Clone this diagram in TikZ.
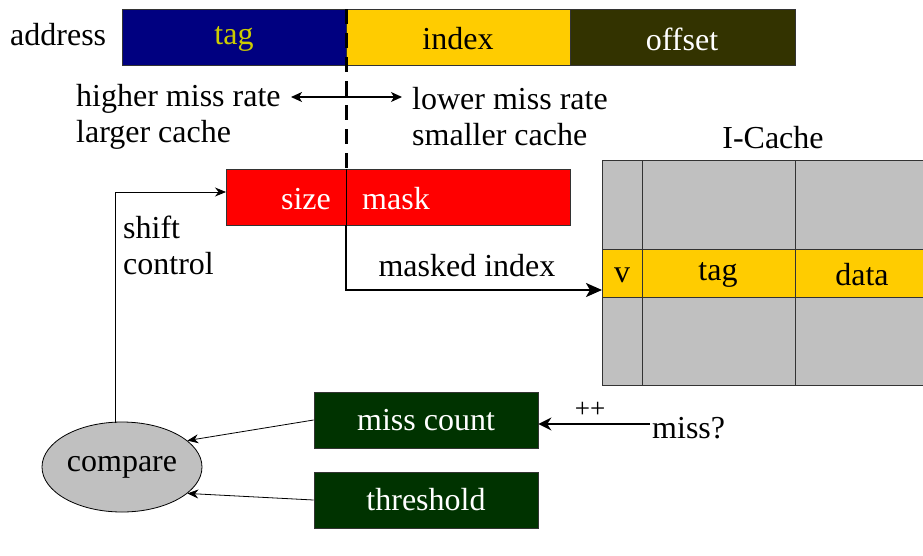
\documentclass[tikz,border=0pt]{standalone}
\usepackage{fontspec}
\setmainfont{Liberation Serif}
\usetikzlibrary{arrows.meta,shapes.geometric}
\definecolor{tagblue}{HTML}{000080}
\definecolor{tagtxt}{HTML}{CCCC00}
\definecolor{idxyel}{HTML}{FFCC00}
\definecolor{offdark}{HTML}{333300}
\definecolor{dgreen}{HTML}{003300}
\definecolor{cgray}{HTML}{C0C0C0}
\begin{document}
\begin{tikzpicture}[x=1pt,y=-1pt,
  txt/.style={font=\fontsize{32}{36}\selectfont, inner sep=0pt},
  fbox/.style={draw=black!80, line width=0.8pt, inner sep=0pt},
  conn/.style={draw=black, line width=0.8pt, -{Stealth[length=11pt,width=9pt]}},
  thick conn/.style={draw=black, line width=2pt, -{Stealth[length=16pt,width=14pt,inset=4pt]}}]
\useasboundingbox (0,0) rectangle (923,555);
% address
\node[txt, anchor=west] (addr) at (10,35) {address};
\filldraw[fbox, fill=tagblue] (122,9) rectangle (346,65);
\filldraw[fbox, fill=idxyel] (346,9) rectangle (570,65);
\filldraw[fbox, fill=offdark] (570,9) rectangle (795,65);
\node[txt, text=tagtxt] (tag) at (234,39) {tag};
\node[txt] (index) at (458,39) {index};
\node[txt, text=white] (offset) at (682,39) {offset};
% trade-off
\node[txt, anchor=west] (hmr) at (76,99) {higher miss rate};
\node[txt, anchor=west] (lc) at (76,135) {larger cache};
\node[txt, anchor=west] (lmr) at (412,99) {lower miss rate};
\node[txt, anchor=west] (sc) at (412,135) {smaller cache};
\coordinate (la) at (291,97);
\coordinate (ra) at (402,97);
\draw[line width=1.4pt, {Stealth[length=11pt,width=10pt,inset=3pt]}-{Stealth[length=11pt,width=10pt,inset=3pt]}] (la) -- (ra);
% size mask
\filldraw[fbox, fill=red] (226,169) rectangle (570,225);
\node[txt, text=white] (size) at (306,199) {size};
\node[txt, text=white] (mask) at (396,199) {mask};
\draw[line width=1pt] (346,169) -- (346,225);
\draw[line width=3pt, dash pattern=on 15pt off 9pt] (346,9) -- (346,175);
% cache
\node[txt] (ic) at (773,138) {I-Cache};
\filldraw[fbox, fill=cgray] (602,160) rectangle (923,385);
\filldraw[fbox, fill=idxyel] (602,249) rectangle (923,297);
\draw[black!80, line width=0.8pt] (642,160) -- (642,385) (795,160) -- (795,385);
\node[txt] (v) at (622,275) {v};
\node[txt] (ctag) at (718,275) {tag};
\node[txt] (cdata) at (862,275) {data};
\coordinate (cin) at (602,290);
\node[txt] (mi) at (467,266) {masked index};
\draw[thick conn] (346,225) -- (346,290) -- (cin);
% counters
\node[fbox, fill=dgreen, minimum width=224pt, minimum height=56pt, txt, text=white] (mc) at (426,420) {miss count};
\node[fbox, fill=dgreen, minimum width=224pt, minimum height=56pt, txt, text=white] (th) at (426,500) {threshold};
\node[ellipse, draw=black, line width=0.8pt, fill=cgray, minimum width=160pt, minimum height=90pt, inner sep=0pt, font=\fontsize{32}{36}\selectfont] (cmp) at (122,467) {compare};
\draw[conn] (mc.west) -- (cmp.22);
\draw[conn] (th.west) -- (cmp.-22);
\node[txt, anchor=west] (miss) at (652,428) {miss?};
\coordinate (ms) at (650,424);
\draw[line width=2pt, -{Stealth[length=13pt,width=13pt]}] (ms) -- (mc.east |- ms);
\node[font=\fontsize{27}{30}\selectfont, inner sep=0pt] (pp) at (590,410) {++};
% shift control
\coordinate (ct) at (115,423);
\draw[conn] (ct) -- (115,192) -- (226,192);
\node[txt, anchor=west] (sh) at (123,227) {shift};
\node[txt, anchor=west] (ctl) at (123,264) {control};
\end{tikzpicture}
\end{document}
